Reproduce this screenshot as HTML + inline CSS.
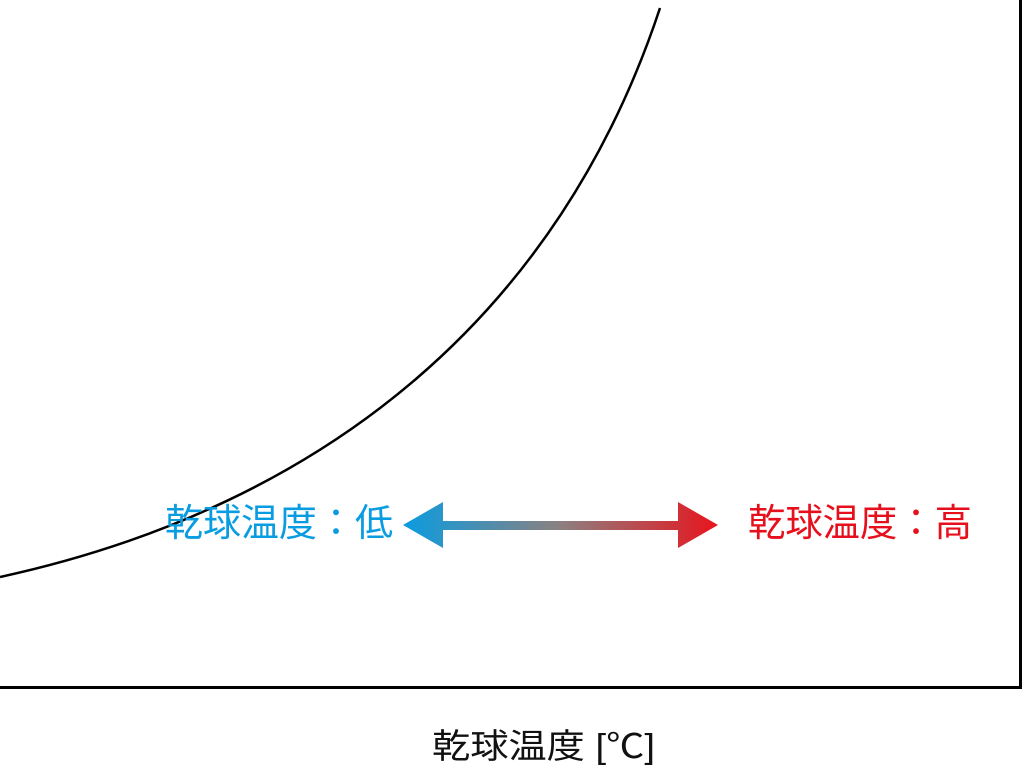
<!DOCTYPE html>
<html><head><meta charset="utf-8"><style>
body{margin:0;background:#fff;}
svg{display:block}
text{font-family:"Liberation Sans","Noto Sans CJK JP",sans-serif;}
</style></head><body>
<svg width="1024" height="772" viewBox="0 0 1024 772">
<defs><linearGradient id="g" x1="403" y1="0" x2="718" y2="0" gradientUnits="userSpaceOnUse">
<stop offset="0" stop-color="#0a9ce0"/><stop offset="0.5" stop-color="#8c8080"/><stop offset="1" stop-color="#e8141e"/></linearGradient></defs>
<path d="M0,577 C330,505 560,310 660,8" fill="none" stroke="#000" stroke-width="2.5"/>
<path d="M0,687.5 H1020.5 V0" fill="none" stroke="#000" stroke-width="3"/>
<path d="M403,525 L443,502 L443,521 L678,521 L678,502 L718,525 L678,548 L678,530 L443,530 L443,548 Z" fill="url(#g)"/>
<text x="165" y="536" font-size="38" fill="#0a9ce0" textLength="228" lengthAdjust="spacingAndGlyphs">乾球温度：低</text>
<text x="748" y="536" font-size="38" fill="#e60f1c" textLength="224" lengthAdjust="spacingAndGlyphs">乾球温度：高</text>
<text x="432" y="758" font-size="34" fill="#111" textLength="223" lengthAdjust="spacingAndGlyphs">乾球温度 [℃]</text>
</svg>
</body></html>
